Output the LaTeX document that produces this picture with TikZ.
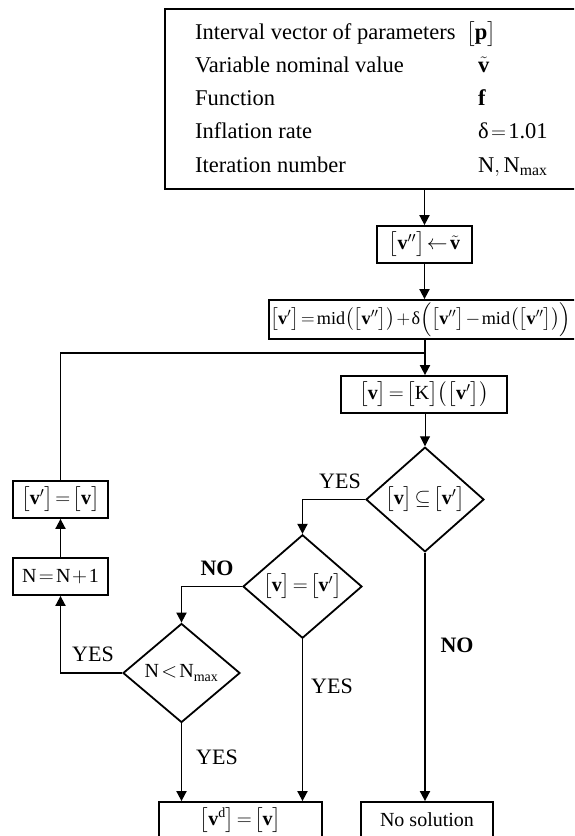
\documentclass[tikz,border=0pt]{standalone}
\usepackage{amsmath}
\usepackage{fontspec}
\setmainfont{Liberation Serif}
\usetikzlibrary{shapes.geometric,arrows.meta}
\newcommand{\tv}{\text{\textbf{v}}}
\newcommand{\tx}[1]{\text{#1}}
\thickmuskip=2mu plus 1mu
\medmuskip=1.5mu plus 1mu
\tikzset{
  bigfont/.style={font=\fontsize{22.5}{26}\selectfont},
  boxfont/.style={font=\fontsize{20}{24}\selectfont},
  box/.style={draw, line width=1.8pt, inner sep=0pt, boxfont},
  dia/.style={draw, diamond, line width=1.8pt, inner sep=0pt, boxfont},
  ln/.style={line width=1.8pt},
  arr/.style={line width=1.8pt, -{Triangle[length=10pt,width=10pt]}},
  thinarr/.style={line width=1pt, -{Triangle[length=10pt,width=10pt]}},
  lbl/.style={font=\fontsize{22}{26}\selectfont, inner sep=0pt},
  lblb/.style={font=\fontsize{22}{26}\selectfont\bfseries, inner sep=0pt},
  toptxt/.style={bigfont, inner sep=0pt, anchor=base west},
}
\begin{document}
\begin{tikzpicture}[x=1pt,y=-1pt]
\useasboundingbox (0,0) rectangle (574,836);
\clip (0,0) rectangle (574,836);
% top box
\node[box, minimum width=416pt, minimum height=180pt] (top) at (373,99) {};
\node[toptxt] (t1) at (195,39) {Interval vector of parameters};
\node[toptxt] (t2) at (195,72) {Variable nominal value};
\node[toptxt] (t3) at (195,105) {Function};
\node[toptxt] (t4) at (195,138) {Inflation rate};
\node[toptxt] (t5) at (195,172) {Iteration number};
\node[toptxt] (r1) at (466,39) {$\bigl[\tx{\textbf{p}}\bigr]$};
\node[toptxt] (r2) at (478,72) {$\tilde{\tv}$};
\node[toptxt] (r3) at (478,105) {\textbf{f}};
\node[toptxt] (r4) at (478,138) {$\tx{δ}=\tx{1.01}$};
\node[toptxt] (r5) at (478,172) {$\tx{N},\tx{N}_{\tx{max}}$};
% boxes
\node[box, minimum width=95pt, minimum height=37pt] (b2) at (424.5,244.5) {$\bigl[\tv''\bigr]\leftarrow\tilde{\tv}$};
\node[box, minimum width=312pt, minimum height=39pt] (b3) at (425,319.5) {};
\node[inner sep=0pt, anchor=west] (b3t) at (270,319.5) {\resizebox{301pt}{!}{\fontsize{20}{24}\selectfont$\bigl[\tv'\bigr]=\tx{mid}\bigl(\bigl[\tv''\bigr]\bigr)+\tx{δ}\Bigl(\bigl[\tv''\bigr]-\tx{mid}\bigl(\bigl[\tv''\bigr]\bigr)\Bigr)$}};
\coordinate (j) at (425,353);
\node[box, minimum width=166pt, minimum height=37pt] (b4) at (424,394.5) {$\bigl[\tv\bigr]=\bigl[\tx{K}\bigr]\bigl(\bigl[\tv'\bigr]\bigr)$};
\node[dia, minimum width=118pt, minimum height=97pt] (d1) at (425,499.5) {$\bigl[\tv\bigr]\subseteq\bigl[\tv'\bigr]$};
\node[dia, minimum width=119pt, minimum height=98pt] (d2) at (302.5,586.5) {$\bigl[\tv\bigr]=\bigl[\tv'\bigr]$};
\node[dia, minimum width=117pt, minimum height=99pt] (d3) at (181.5,673) {$\tx{N}<\tx{N}_{\tx{max}}$};
\node[box, minimum width=95pt, minimum height=37pt] (vp) at (60.5,499.5) {$\bigl[\tv'\bigr]=\bigl[\tv\bigr]$};
\node[box, minimum width=95pt, minimum height=37pt] (nb) at (60.5,576.5) {$\tx{N}=\tx{N}+\tx{1}$};
\node[box, minimum width=163pt, minimum height=36pt] (vd) at (240.5,820) {$\bigl[\tv^{\tx{d}}\bigr]=\bigl[\tv\bigr]$};
\node[box, minimum width=132pt, minimum height=36pt] (ns) at (427,820) {No solution};
% connectors
\draw[arr] (top.south -| b2.north) -- (b2.north);
\draw[arr] (b2.south) -- (b2.south |- b3.north);
\draw[arr] (b3.south -| j) -- (b4.north -| j);
\draw[thinarr] (b4.south -| d1.north) -- (d1.north);
\draw[arr] (d1.west) -| (d2.north);
\draw[arr] (d2.west) -| (d3.north);
\draw[arr] (d3.west) -| (nb.south);
\draw[arr] (nb.north) -- (vp.south);
\draw[ln] (vp.north) |- (j);
\draw[arr] (d3.south) -- (d3.south |- vd.north);
\draw[arr] (d2.south) -- (d2.south |- vd.north);
\draw[arr] (d1.south) -- (d1.south |- ns.north);
% labels
\node[lbl] (y1) at (340,481) {YES};
\node[lblb] (n1) at (217,568) {NO};
\node[lbl] (y2) at (93,654) {YES};
\node[lbl] (y3) at (217,757) {YES};
\node[lbl] (y4) at (332,686) {YES};
\node[lblb] (n2) at (457,645) {NO};
\end{tikzpicture}
\end{document}
